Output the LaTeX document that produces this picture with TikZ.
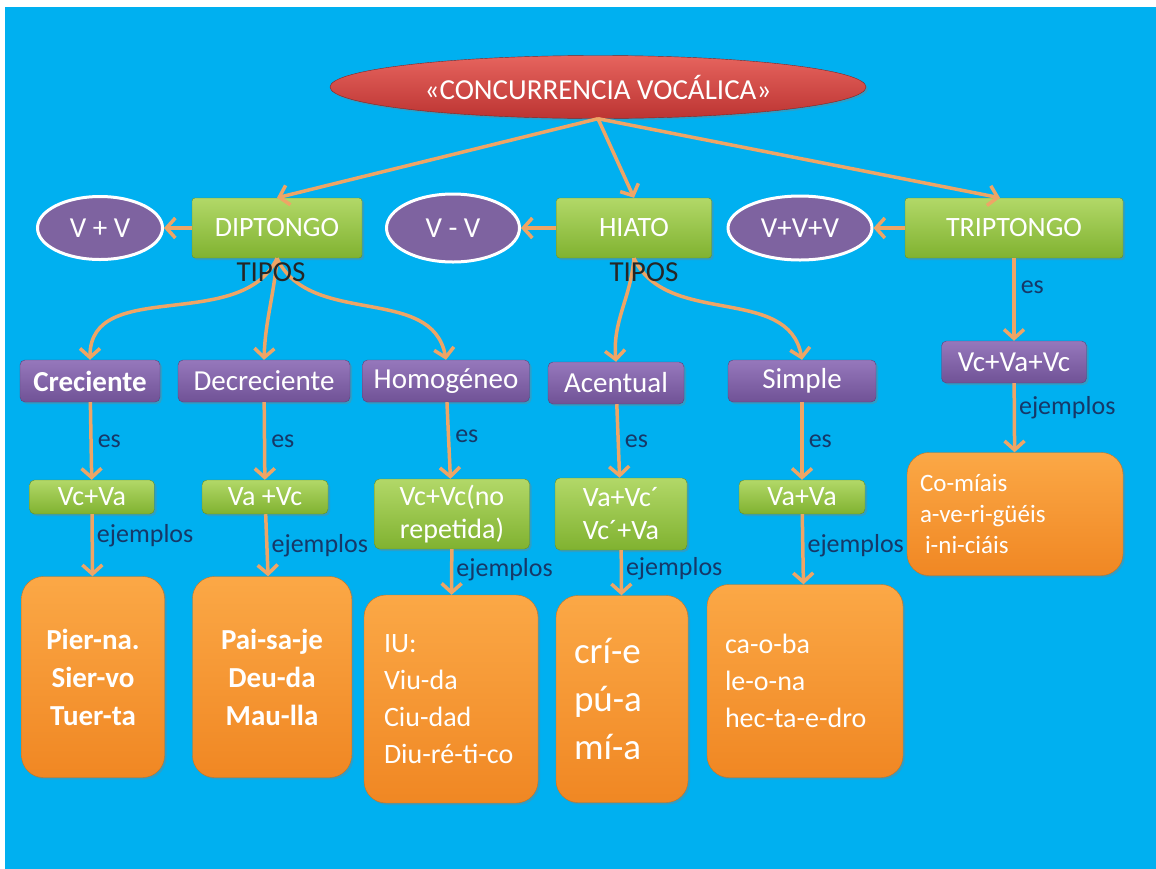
\documentclass[tikz,border=0pt]{standalone}
\usepackage{fontspec}
\setmainfont{Carlito}
\usetikzlibrary{shapes,arrows.meta,shadows,calc,positioning}

\definecolor{fondoAzul}{RGB}{0,176,240}
\definecolor{rojoA}{RGB}{230,100,94}
\definecolor{rojoB}{RGB}{188,52,50}
\definecolor{verdeA}{RGB}{178,216,104}
\definecolor{verdeB}{RGB}{128,178,48}
\definecolor{moradoA}{RGB}{150,120,188}
\definecolor{moradoB}{RGB}{112,82,150}
\definecolor{naranjaA}{RGB}{251,168,70}
\definecolor{naranjaB}{RGB}{240,135,35}
\definecolor{flecha}{RGB}{238,165,102}
\definecolor{rotulo}{RGB}{22,56,104}

\tikzset{
  sombra/.style={drop shadow={opacity=.35,shadow xshift=2pt,shadow yshift=-2pt}},
  cajaVerde/.style={rectangle,rounded corners=3pt,top color=verdeA,bottom color=verdeB,draw=verdeB!80!black,thin,text=white,inner sep=2pt,sombra,font=\fontsize{28}{33}\selectfont,align=center},
  cajaMorada/.style={rectangle,rounded corners=5pt,top color=moradoA,bottom color=moradoB,draw=moradoB!80!black,thin,text=white,minimum height=42pt,inner sep=2pt,sombra,font=\fontsize{29}{34}\selectfont},
  cajaNaranja/.style={rectangle,rounded corners=22pt,top color=naranjaA,bottom color=naranjaB,draw=naranjaB!85!black,thin,text=white,sombra,inner sep=0pt},
  elipseMorada/.style={ellipse,fill=moradoB!90!white,draw=white,line width=3pt,text=white,inner sep=0pt,font=\fontsize{29}{34}\selectfont},
  conector/.style={draw=flecha,line width=3.5pt,-{Straight Barb[length=9pt,width=20pt]}},
  etiqueta/.style={text=rotulo,font=\fontsize{26}{30}\selectfont,inner sep=5pt}
}

\begin{document}
\begin{tikzpicture}[x=1pt,y=1pt]

\useasboundingbox (0,0) rectangle (1156,-868);
\fill[white] (-10,10) rectangle (1170,-880);
\fill[fondoAzul] (5,-7) rectangle (1170,-880);

% the title
\node[ellipse,minimum width=536pt,minimum height=63pt,top color=rojoA,bottom color=rojoB,draw=rojoB!70!black,text=white,sombra,font=\fontsize{29}{34}\selectfont] (titulo) at (598,-87) {«CONCURRENCIA VOCÁLICA»};

% the three kinds
\foreach \nombre/\x/\w/\texto in {diptongo/277/170/DIPTONGO, hiato/634/155/HIATO, triptongo/1014/218/TRIPTONGO}
  \node[cajaVerde,minimum width=\w pt,minimum height=60pt] (\nombre) at (\x,-228) {\texto};

\foreach \nombre/\x/\w/\h/\texto in {vv/100/125/63/{V + V}, vmv/453/133/68/{V - V}, vvv/800/144/64/{V+V+V}}
  \node[elipseMorada,minimum width=\w pt,minimum height=\h pt] (\nombre) at (\x,-228) {\texto};

% the purple row
\foreach \nombre/\x/\y/\w/\texto in {cre/90/-381/140/{\bfseries Creciente}, dec/264/-381/172/Decreciente, hom/446/-381/167/Homogéneo, ace/616/-383/136/Acentual, sim/802/-381/148/Simple, vcvavc/1014/-362/145/Vc+Va+Vc}
  \node[cajaMorada,minimum width=\w pt] (\nombre) at (\x,\y) {\texto};

% the formulas
\foreach \nombre/\x/\y/\w/\h/\texto in {vcva/92/-497/125/34/Vc+Va, vavc/265/-497/126/34/{Va +Vc}, vcvc/452/-514/155/70/{Vc+Vc(no\\repetida)}, vavcb/621/-514/132/72/{Va+Vc´\\Vc´+Va}, vava/802/-497/126/34/Va+Va}
  \node[cajaVerde,rounded corners=5pt,minimum width=\w pt,minimum height=\h pt] (\nombre) at (\x,\y) {\texto};

% the examples
\node[cajaNaranja,minimum width=143pt,minimum height=201pt,align=center,font=\fontsize{29}{38}\selectfont\bfseries] (excre) at (93,-677) {Pier-na.\\Sier-vo\\Tuer-ta};
\node[cajaNaranja,minimum width=159pt,minimum height=201pt,align=center,font=\fontsize{29}{38}\selectfont\bfseries] (exdec) at (272,-677) {Pai-sa-je\\Deu-da\\Mau-lla};
\node[cajaNaranja,minimum width=174pt,minimum height=208pt,text width=134pt,align=left,font=\fontsize{28}{37}\selectfont] (exhom) at (451,-699) {IU:\\Viu-da\\Ciu-dad\\Diu-ré-ti-co};
\node[cajaNaranja,minimum width=132pt,minimum height=207pt,text width=96pt,align=left,font=\fontsize{37}{48}\selectfont] (exace) at (622,-699) {crí-e\\pú-a\\mí-a};
\node[cajaNaranja,minimum width=196pt,minimum height=193pt,text width=160pt,align=left,font=\fontsize{28}{37}\selectfont] (exsim) at (805,-681) {ca-o-ba\\le-o-na\\hec-ta-e-dro};
\node[cajaNaranja,minimum width=216pt,minimum height=123pt,text width=190pt,align=left,font=\fontsize{25}{31}\selectfont] (extri) at (1015,-514) {Co-míais\\a-ve-ri-güéis\\\hspace{5pt}i-ni-ciáis};

% draw the arrows
\draw[conector] (titulo.south) -- (diptongo.north);
\draw[conector] (titulo.south) -- (hiato.north);
\draw[conector] (titulo.south) -- ([xshift=-14pt]triptongo.north);

\draw[conector] (diptongo) -- (vv);
\draw[conector] (hiato) -- (vmv);
\draw[conector] (triptongo) -- (vvv);

\draw[conector] (diptongo.south) to[out=-115,in=90] (cre.north);
\draw[conector] (diptongo.south) to[out=-95,in=88] (dec.north);
\draw[conector] (diptongo.south) to[out=-65,in=100] (hom.north);
\draw[conector] (hiato.south) to[out=-95,in=95] (ace.north);
\draw[conector] (hiato.south) to[out=-65,in=100] (sim.north);

\foreach \desde/\hasta/\p in {cre/vcva/.5, dec/vavc/.5, hom/vcvc/.45, ace/vavcb/.5, sim/vava/.5, triptongo/vcvavc/.35}
  \draw[conector] (\desde) -- (\hasta) node[etiqueta,right,pos=\p] {es};

\foreach \desde/\hasta/\p in {vcva/excre/.35, vavc/exdec/.5, vcvc/exhom/.45, vavcb/exace/.4, vava/exsim/.45, vcvavc/extri/.35}
  \draw[conector] (\desde) -- (\hasta) node[etiqueta,right,pos=\p,inner xsep=3pt] {ejemplos};

% the TIPOS labels lie over the curves
\node[font=\fontsize{29}{34}\selectfont,text=black!85,inner sep=0pt] (tiposD) at (271,-272) {TIPOS};
\node[font=\fontsize{29}{34}\selectfont,text=black!85,inner sep=0pt] (tiposH) at (644,-272) {TIPOS};

\end{tikzpicture}
\end{document}
